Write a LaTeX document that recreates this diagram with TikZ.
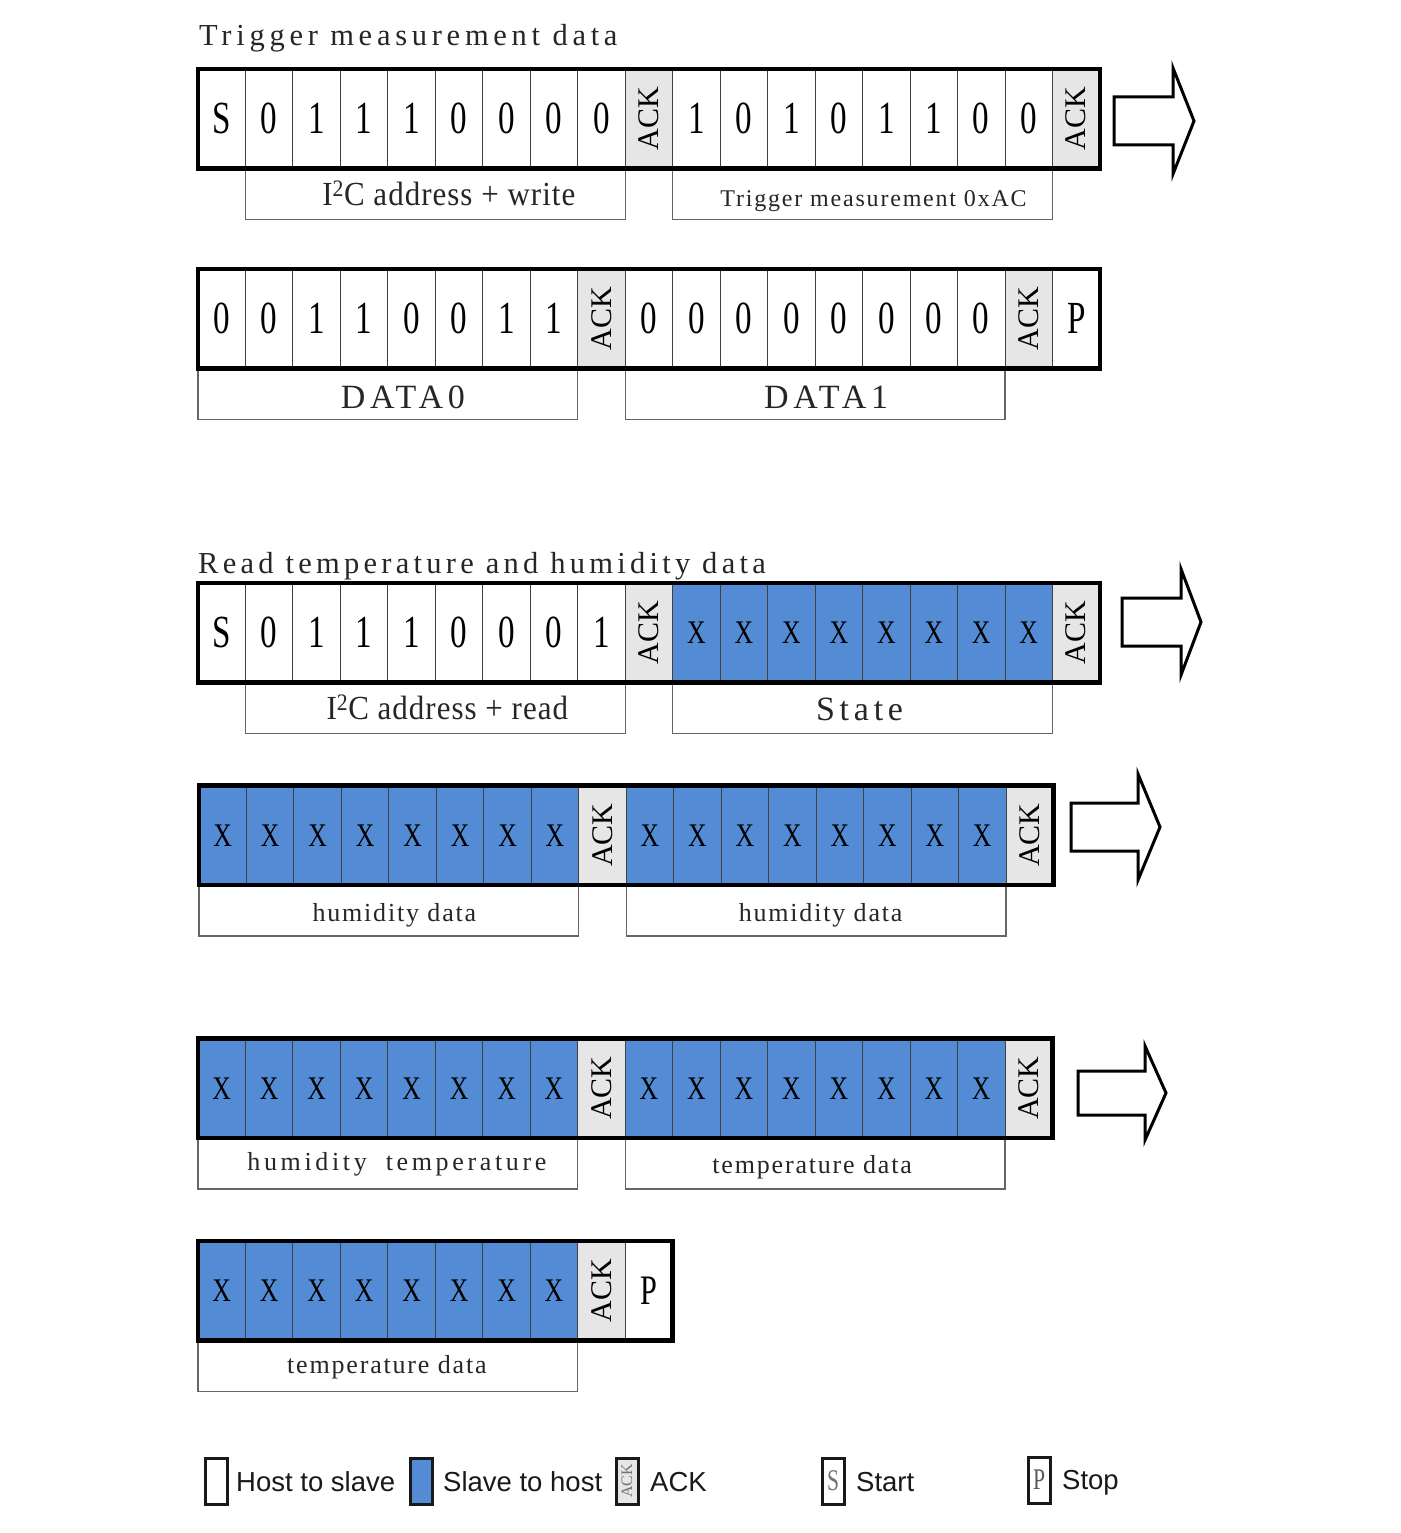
\documentclass[tikz,border=0pt]{standalone}
\usepackage{fontspec}
\usepackage{graphicx}
\setmainfont{Liberation Serif}
\newfontfamily\cellfont[FakeStretch=0.72]{Liberation Serif}
\newfontfamily\xfont[FakeStretch=0.78]{Liberation Serif}
\newfontfamily\addrfont[FakeStretch=0.92,LetterSpace=3]{Liberation Serif}
\newfontfamily\lsTitle[LetterSpace=14]{Liberation Serif}
\newfontfamily\lsTitleW[LetterSpace=15.5]{Liberation Serif}
\newfontfamily\lsTrig[LetterSpace=7.5]{Liberation Serif}
\newfontfamily\lsData[LetterSpace=14]{Liberation Serif}
\newfontfamily\lsHum[LetterSpace=7]{Liberation Serif}
\newfontfamily\lsHumW[LetterSpace=14]{Liberation Serif}
\newfontfamily\legfont{Liberation Sans}
\definecolor{sblue}{HTML}{538CD5}
\definecolor{ackgray}{HTML}{E6E6E6}
\def\cw{47.47}
\newcommand\ackrot{\rotatebox{90}{\fontsize{30}{30}\selectfont ACK}}
\newcommand\fAddr{\addrfont\fontsize{33.7}{33.7}\selectfont}
\newcommand\fData{\lsData\fontsize{34}{34}\selectfont}
\newcommand\fHum{\lsHum\fontsize{26}{26}\selectfont}
\newcommand\bitrow[4]{\foreach \t/\c [count=\i from 0] in {#4}{\node[\t] (#1c\i) at ({#2+\i*\cw},#3) {\c};}}
\newcommand\blockarrow[6]{\draw[barrow] (#1,{#4-#5}) -- (#2,{#4-#5}) -- (#2,{#4-#6}) -- (#3,#4) -- (#2,{#4+#6}) -- (#2,{#4+#5}) -- (#1,{#4+#5}) -- cycle;}
\tikzset{
 cell/.style={draw=black!75, line width=0.9pt, minimum width=\cw pt, minimum height=99.5pt, inner sep=0pt, outer sep=0pt, anchor=north west},
 cw/.style={cell, fill=white, font=\cellfont\fontsize{46}{46}\selectfont},
 cp/.style={cell, fill=white, font=\cellfont\fontsize{42}{42}\selectfont},
 cb/.style={cell, fill=sblue, font=\xfont\fontsize{33}{33}\selectfont},
 ca/.style={cell, fill=ackgray},
 frame/.style={draw=black, line width=4.5pt},
 lab/.style={draw=black!60, line width=1.1pt, minimum height=51pt, minimum width=379.76pt, inner sep=0pt, outer sep=0pt, anchor=north west, fill=white},
 labtxt/.style={anchor=base, inner sep=0pt, text=black!85},
 title/.style={anchor=base west, inner sep=0pt, text=black!85, font=\lsTitle\fontsize{30.5}{30.5}\selectfont},
 barrow/.style={draw=black, line width=3pt, fill=white, line join=miter},
 legbox/.style={draw=black!90, line width=3pt, minimum width=22pt, minimum height=46pt, inner sep=0pt},
 legtxt/.style={anchor=base west, inner sep=0pt, font=\legfont\fontsize{27.5}{27.5}\selectfont, text=black!90},
}
\begin{document}
\begin{tikzpicture}[x=1pt,y=-1pt]
\useasboundingbox (0,0) rectangle (1400,1533);
\fill[white] (0,0) rectangle (1400,1533);

% ---------- Trigger measurement ----------
\node[title, font=\lsTitleW\fontsize{30.5}{30.5}\selectfont] (t1) at (199,46) {Trigger measurement data};

\bitrow{r1}{198}{69}{cw/S,cw/0,cw/1,cw/1,cw/1,cw/0,cw/0,cw/0,cw/0,ca/\ackrot,cw/1,cw/0,cw/1,cw/0,cw/1,cw/1,cw/0,cw/0,ca/\ackrot}
\node[lab] (l1a) at (r1c1.south west) {};
\node[labtxt, font=\fAddr] (l1at) at ([xshift=13.5pt, yshift=-37pt]l1a.north) {I\textsuperscript{2}C address + write};
\node[lab] (l1b) at (r1c10.south west) {};
\node[labtxt, font=\lsTrig\fontsize{24}{24}\selectfont] (l1bt) at ([xshift=11pt, yshift=-38pt]l1b.north) {Trigger measurement 0xAC};
\draw[frame] (r1c0.north west) rectangle (r1c18.south east);
\blockarrow{1114}{1173}{1194}{121}{24}{53}

\bitrow{r2}{198}{269}{cw/0,cw/0,cw/1,cw/1,cw/0,cw/0,cw/1,cw/1,ca/\ackrot,cw/0,cw/0,cw/0,cw/0,cw/0,cw/0,cw/0,cw/0,ca/\ackrot,cw/P}
\node[lab] (l2a) at (r2c0.south west) {};
\node[labtxt, font=\fData] (l2at) at ([xshift=15pt, yshift=-40pt]l2a.north) {DATA0};
\node[lab] (l2b) at (r2c9.south west) {};
\node[labtxt, font=\fData] (l2bt) at ([xshift=11pt, yshift=-40pt]l2b.north) {DATA1};
\draw[frame] (r2c0.north west) rectangle (r2c18.south east);

% ---------- Read temperature and humidity ----------
\node[title] (t2) at (198,573) {Read temperature and humidity data};

\bitrow{r3}{198}{583}{cw/S,cw/0,cw/1,cw/1,cw/1,cw/0,cw/0,cw/0,cw/1,ca/\ackrot,cb/X,cb/X,cb/X,cb/X,cb/X,cb/X,cb/X,cb/X,ca/\ackrot}
\node[lab] (l3a) at (r3c1.south west) {};
\node[labtxt, font=\fAddr] (l3at) at ([xshift=12pt, yshift=-37pt]l3a.north) {I\textsuperscript{2}C address + read};
\node[lab] (l3b) at (r3c10.south west) {};
\node[labtxt, font=\fData] (l3bt) at ([xshift=-3pt, yshift=-38pt]l3b.north) {State};
\draw[frame] (r3c0.north west) rectangle (r3c18.south east);
\blockarrow{1122}{1181}{1201}{622}{24}{53}

\bitrow{r4}{199}{785.5}{cb/X,cb/X,cb/X,cb/X,cb/X,cb/X,cb/X,cb/X,ca/\ackrot,cb/X,cb/X,cb/X,cb/X,cb/X,cb/X,cb/X,cb/X,ca/\ackrot}
\node[lab] (l4a) at (r4c0.south west) {};
\node[labtxt, font=\fHum] (l4at) at ([xshift=5.5pt, yshift=-36pt]l4a.north) {humidity data};
\node[lab] (l4b) at (r4c9.south west) {};
\node[labtxt, font=\fHum] (l4bt) at ([xshift=4.5pt, yshift=-36pt]l4b.north) {humidity data};
\draw[frame] (r4c0.north west) rectangle (r4c17.south east);
\blockarrow{1071}{1138}{1160}{827}{24}{53}

\bitrow{r5}{198}{1038.5}{cb/X,cb/X,cb/X,cb/X,cb/X,cb/X,cb/X,cb/X,ca/\ackrot,cb/X,cb/X,cb/X,cb/X,cb/X,cb/X,cb/X,cb/X,ca/\ackrot}
\node[lab] (l5a) at (r5c0.south west) {};
\node[labtxt, font=\lsHumW\fontsize{26}{26}\selectfont] (l5at) at ([xshift=9pt, yshift=-32pt]l5a.north) {humidity\hspace{19pt}temperature};
\node[lab] (l5b) at (r5c9.south west) {};
\node[labtxt, font=\fHum] (l5bt) at ([xshift=-3pt, yshift=-35pt]l5b.north) {temperature data};
\draw[frame] (r5c0.north west) rectangle (r5c17.south east);
\blockarrow{1078}{1145}{1166}{1093}{22}{47}

\bitrow{r6}{198}{1241}{cb/X,cb/X,cb/X,cb/X,cb/X,cb/X,cb/X,cb/X,ca/\ackrot,cp/P}
\node[lab] (l6a) at (r6c0.south west) {};
\node[labtxt, font=\fHum] (l6at) at ([xshift=-1pt, yshift=-33pt]l6a.north) {temperature data};
\draw[frame] (r6c0.north west) rectangle (r6c9.south east);

% ---------- legend ----------
\node[legbox, fill=white] (k1) at (216,1481) {};
\node[legtxt] (k1t) at (236,1491) {Host to slave};
\node[legbox, fill=sblue] (k2) at (421.5,1481) {};
\node[legtxt] (k2t) at (443,1491) {Slave to host};
\node[legbox, fill=ackgray, text=black!55] (k3) at (627,1481) {\rotatebox{90}{\fontsize{16}{16}\selectfont ACK}};
\node[legtxt] (k3t) at (650,1491) {ACK};
\node[legbox, fill=white, text=black!55, font=\cellfont\fontsize{30}{30}\selectfont] (k4) at (833,1481) {S};
\node[legtxt] (k4t) at (856,1491) {Start};
\node[legbox, fill=white, text=black!65, font=\cellfont\fontsize{30}{30}\selectfont] (k5) at (1039,1480) {P};
\node[legtxt] (k5t) at (1062,1489) {Stop};
\end{tikzpicture}
\end{document}
